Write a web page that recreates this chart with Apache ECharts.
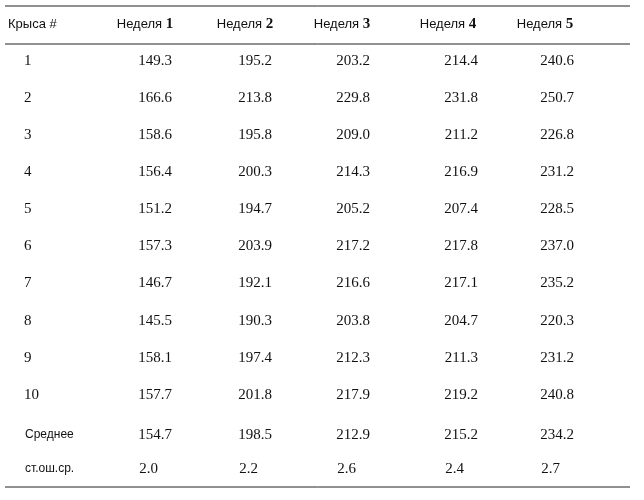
<!DOCTYPE html>
<html><head><meta charset="utf-8">
<script src="https://cdn.jsdelivr.net/npm/echarts@6/dist/echarts.min.js"></script>
<style>html,body{margin:0;padding:0;background:#fff}#c{width:644px;height:500px}</style>
</head><body><div id="c"></div>
<script>
const headerLabel = "Крыса #";
const weekWord = "Неделя";
const weeks = ["1","2","3","4","5"];
const rowLabels = ["1","2","3","4","5","6","7","8","9","10"];
const week1 = [149.3,166.6,158.6,156.4,151.2,157.3,146.7,145.5,158.1,157.7];
const week2 = [195.2,213.8,195.8,200.3,194.7,203.9,192.1,190.3,197.4,201.8];
const week3 = [203.2,229.8,209.0,214.3,205.2,217.2,216.6,203.8,212.3,217.9];
const week4 = [214.4,231.8,211.2,216.9,207.4,217.8,217.1,204.7,211.3,219.2];
const week5 = [240.6,250.7,226.8,231.2,228.5,237.0,235.2,220.3,231.2,240.8];
const meanLabel = "Среднее";
const meanVals = [154.7,198.5,212.9,215.2,234.2];
const semLabel = "ст.ош.ср.";
const semVals = [2.0,2.2,2.6,2.4,2.7];

const cols = [week1,week2,week3,week4,week5];
const colRight = [172,272,370,478,574];
const colHead = [145,245,342,448,545];
const rowY = [61,98,135,172,209,246,283,321,358,395];
const serif = "Liberation Serif", sans = "Liberation Sans";
const g = [];
function line(y){g.push({type:'line',shape:{x1:5,y1:y,x2:630,y2:y},style:{stroke:'#222',lineWidth:1}});}
function txt(x,y,t,font,size,align,weight){g.push({type:'text',x:x,y:y,style:{text:t,fontFamily:font,fontSize:size,fill:'#111',align:align,verticalAlign:'middle',fontWeight:weight||'normal'}});}
line(6); line(44); line(487);
txt(8,24,headerLabel,sans,13,'left');
weeks.forEach((w,i)=>{
  g.push({type:'text',x:colHead[i],y:24,style:{text:'{a|'+weekWord+' }{b|'+w+'}',align:'center',verticalAlign:'middle',fill:'#111',
    rich:{a:{fontFamily:sans,fontSize:13,fill:'#111'},b:{fontFamily:serif,fontSize:15,fontWeight:'bold',fill:'#111'}}}});
});
rowLabels.forEach((r,j)=>{
  txt(24,rowY[j],r,serif,15,'left');
  cols.forEach((c,i)=>txt(colRight[i],rowY[j],c[j].toFixed(1),serif,15,'right'));
});
txt(25,435,meanLabel,sans,12,'left');
meanVals.forEach((v,i)=>txt(colRight[i],435,v.toFixed(1),serif,15,'right'));
txt(25,469,semLabel,sans,12,'left');
semVals.forEach((v,i)=>txt(colRight[i]-14,469,v.toFixed(1),serif,15,'right'));
const chart = echarts.init(document.getElementById('c'));
chart.setOption({animation:false,graphic:g});
</script></body></html>
